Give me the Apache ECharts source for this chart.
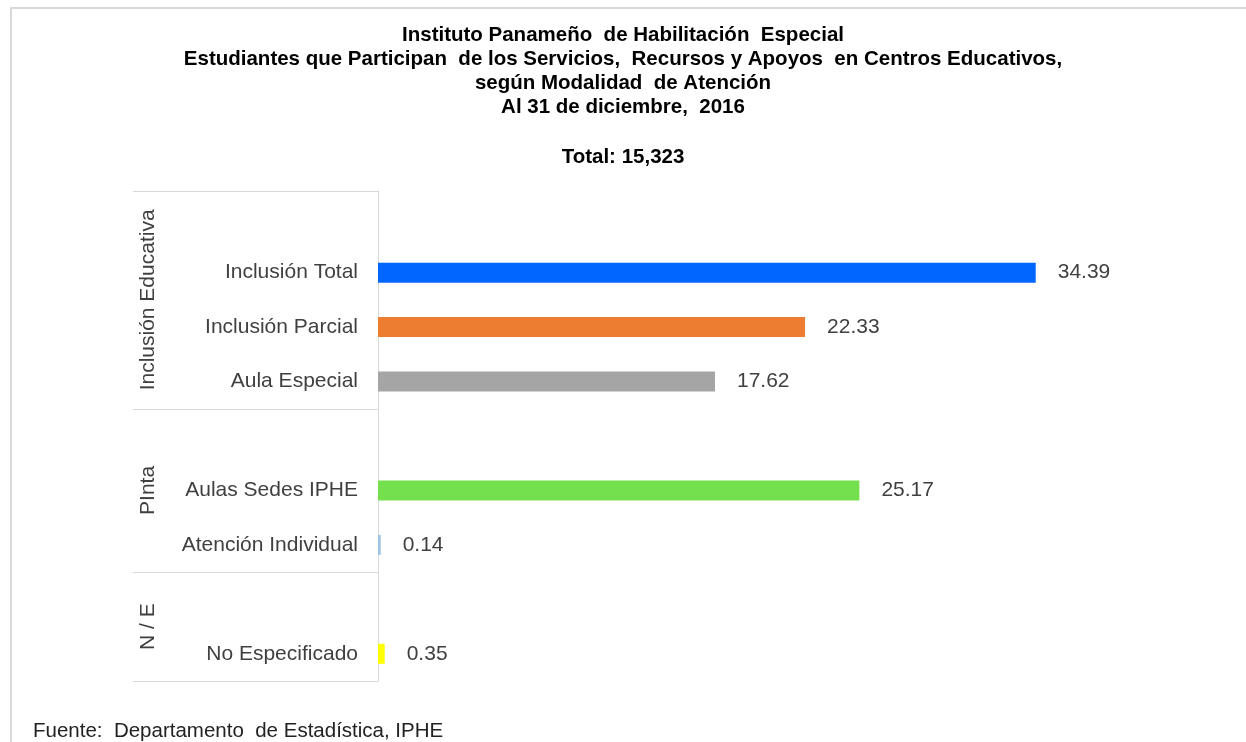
<!DOCTYPE html>
<html><head><meta charset="utf-8">
<script src="https://cdn.jsdelivr.net/npm/echarts@6/dist/echarts.min.js"></script>
<style>html,body{margin:0;padding:0;background:#fff}#c{width:1246px;height:742px}</style>
</head><body><div id="c"></div>
<script>
const titleLines = [
  'Instituto Panameño  de Habilitación  Especial',
  'Estudiantes que Participan  de los Servicios,  Recursos y Apoyos  en Centros Educativos,',
  'según Modalidad  de Atención',
  'Al 31 de diciembre,  2016'
];
const totalText = 'Total: 15,323';
const sourceText = 'Fuente:  Departamento  de Estadística, IPHE';
const categories = ['', 'Inclusión Total', 'Inclusión Parcial', 'Aula Especial', ' ', 'Aulas Sedes IPHE', 'Atención Individual', '  ', 'No Especificado'];
const values = [null, 34.39, 22.33, 17.62, null, 25.17, 0.14, null, 0.35];
const barColors = ['#fff', '#0066FF', '#ED7D31', '#A5A5A5', '#fff', '#75E04E', '#9DC3E6', '#fff', '#FFFF00'];
const groupNames = ['Inclusión Educativa', 'PInta', 'N / E'];
const groupStarts = [0, 4, 7];
const groupEnds = [3, 6, 8];

const chart = echarts.init(document.getElementById('c'));
const FONT = '"Liberation Sans", Arial, sans-serif';
chart.setOption({
  animation: false,
  textStyle: {fontFamily: FONT},
  title: [{
    text: titleLines.join('\n'), left: 'center', top: 18,
    textStyle: {fontFamily: FONT, fontSize: 20.5, fontWeight: 'bold', color: '#000', lineHeight: 24}
  }, {
    text: totalText, left: 'center', top: 140,
    textStyle: {fontFamily: FONT, fontSize: 20.5, fontWeight: 'bold', color: '#000', lineHeight: 24}
  }],
  grid: {left: 378, right: 103, top: 191, bottom: 61, containLabel: false},
  xAxis: {type: 'value', min: 0, max: 40, show: false},
  yAxis: {
    type: 'category', inverse: true, data: categories,
    axisLine: {show: true, lineStyle: {color: '#D9D9D9', width: 1}},
    axisTick: {show: false},
    axisLabel: {fontFamily: FONT, fontSize: 21, color: '#404040', margin: 20}
  },
  series: [{
    type: 'bar', barWidth: 20,
    data: values.map((v, i) => ({value: v, itemStyle: {color: barColors[i]}})),
    label: {show: true, position: 'right', distance: 22, fontFamily: FONT, fontSize: 21, color: '#404040',
      formatter: p => p.value == null ? '' : p.value.toFixed(2)}
  }]
});

function draw() {
  const y0 = chart.convertToPixel({yAxisIndex: 0}, 0);
  const y1 = chart.convertToPixel({yAxisIndex: 0}, 1);
  const band = y1 - y0;
  const axisX = chart.convertToPixel({xAxisIndex: 0}, 0);
  const leftX = 133;
  const els = [];
  els.push({type: 'rect', shape: {x: 11, y: 8, width: 1400, height: 900}, style: {fill: null, stroke: '#D9D9D9', lineWidth: 2}, z: -1});
  const bounds = new Set();
  groupStarts.forEach((s, g) => {
    const top = y0 + (s - 0.5) * band;
    const bot = y0 + (groupEnds[g] + 0.5) * band;
    bounds.add(Math.round(top)); bounds.add(Math.round(bot));
    els.push({type: 'text', x: 148, y: (top + bot) / 2, rotation: Math.PI / 2,
      style: {text: groupNames[g], font: '21px ' + FONT, fill: '#404040', align: 'center', verticalAlign: 'middle'}});
  });
  bounds.forEach(b => els.push({type: 'line', shape: {x1: leftX, y1: b + 0.5, x2: axisX, y2: b + 0.5}, style: {stroke: '#D9D9D9', lineWidth: 1}}));
  els.push({type: 'text', x: 33, y: 731, style: {text: sourceText, font: '20.5px ' + FONT, fill: '#222', verticalAlign: 'middle'}});
  chart.setOption({graphic: els});
}
draw();
</script></body></html>
